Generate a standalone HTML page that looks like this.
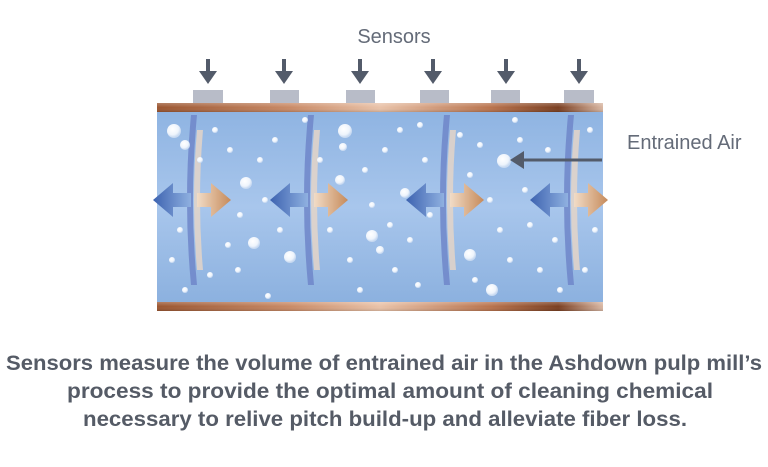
<!DOCTYPE html>
<html><head><meta charset="utf-8"><style>
html,body{margin:0;padding:0;background:#fff;width:768px;height:467px;overflow:hidden}
svg{display:block}
</style></head><body>
<svg width="768" height="467" viewBox="0 0 768 467" xmlns="http://www.w3.org/2000/svg">
<defs>
<linearGradient id="cu" x1="0" x2="1" y1="0" y2="0">
<stop offset="0" stop-color="#9a5530"/><stop offset="0.3" stop-color="#c98a66"/><stop offset="0.5" stop-color="#e9c2a8"/><stop offset="0.75" stop-color="#b8724c"/><stop offset="0.9" stop-color="#7a3e20"/><stop offset="1" stop-color="#d9b7a3"/>
</linearGradient>
<linearGradient id="cuv" x1="0" x2="0" y1="0" y2="1">
<stop offset="0" stop-color="#fff" stop-opacity="0.25"/><stop offset="0.5" stop-color="#fff" stop-opacity="0"/><stop offset="1" stop-color="#000" stop-opacity="0.15"/>
</linearGradient>
<linearGradient id="water" x1="0" x2="0" y1="0" y2="1">
<stop offset="0" stop-color="#8fb4e2"/><stop offset="0.5" stop-color="#a8c6ec"/><stop offset="1" stop-color="#8cb1df"/>
</linearGradient>
<linearGradient id="bl" x1="0" x2="1"><stop offset="0" stop-color="#3d63b0"/><stop offset="1" stop-color="#8fb0e0"/></linearGradient>
<linearGradient id="or" x1="0" x2="1"><stop offset="0" stop-color="#f1dcc7"/><stop offset="1" stop-color="#c68a5a"/></linearGradient>
<radialGradient id="bub" cx="0.4" cy="0.35" r="0.6"><stop offset="0" stop-color="#fff"/><stop offset="0.7" stop-color="#eef4fc"/><stop offset="1" stop-color="#c7d9f1"/></radialGradient>
<g id="sa"><rect x="-2" y="0" width="4" height="18" fill="#535b6a"/><polygon points="-9,12 9,12 0,25" fill="#535b6a"/></g>
<g id="unit">
<path d="M-4,-85 Q-12,0 -4,85 L2,85 Q-6,0 2,-85Z" fill="#6f86c9" opacity="0.85"/>
<path d="M2,-70 Q-4,0 2,70 L8,70 Q2,0 8,-70Z" fill="#e8d6c6" opacity="0.8"/>
<polygon points="-42,0 -22,-17 -22,-7 -4,-7 -4,7 -22,7 -22,17" fill="url(#bl)"/>
<polygon points="36,0 16,-17 16,-7 2,-7 2,7 16,7 16,17" fill="url(#or)"/>
</g>
</defs>
<text x="394" y="43" font-family="Liberation Sans, sans-serif" font-size="20" fill="#646b78" text-anchor="middle">Sensors</text>
<use href="#sa" x="208" y="59"/><use href="#sa" x="284" y="59"/><use href="#sa" x="360" y="59"/><use href="#sa" x="433" y="59"/><use href="#sa" x="506" y="59"/><use href="#sa" x="579" y="59"/>
<g fill="#b8bcc8"><rect x="193" y="90" width="30" height="13"/><rect x="270" y="90" width="29" height="13"/><rect x="346" y="90" width="29" height="13"/><rect x="420" y="90" width="29" height="13"/><rect x="491" y="90" width="29" height="13"/><rect x="564" y="90" width="30" height="13"/></g>
<rect x="157" y="103" width="446" height="9" fill="url(#cu)"/><rect x="157" y="103" width="446" height="9" fill="url(#cuv)"/>
<rect x="157" y="112" width="446" height="190" fill="url(#water)"/>
<rect x="157" y="302" width="446" height="9" fill="url(#cu)"/><rect x="157" y="302" width="446" height="9" fill="url(#cuv)"/>
<use href="#unit" x="195" y="200"/><use href="#unit" x="312" y="200"/><use href="#unit" x="448" y="200"/><use href="#unit" x="572" y="200"/>
<g fill="url(#bub)">
<circle cx="174" cy="131" r="7"/><circle cx="185" cy="145" r="5"/><circle cx="246" cy="183" r="6"/><circle cx="345" cy="131" r="7"/><circle cx="343" cy="147" r="4"/><circle cx="405" cy="193" r="5"/><circle cx="504" cy="161" r="7"/><circle cx="254" cy="243" r="6"/><circle cx="290" cy="257" r="6"/><circle cx="372" cy="236" r="6"/><circle cx="470" cy="255" r="6"/><circle cx="492" cy="290" r="6"/><circle cx="340" cy="180" r="5"/>
<circle cx="200" cy="160" r="3"/><circle cx="215" cy="130" r="3"/><circle cx="230" cy="150" r="3"/><circle cx="240" cy="215" r="3"/><circle cx="260" cy="160" r="3"/><circle cx="265" cy="200" r="3"/><circle cx="275" cy="140" r="3"/><circle cx="280" cy="230" r="3"/><circle cx="238" cy="270" r="3"/><circle cx="268" cy="296" r="3"/><circle cx="228" cy="245" r="3"/><circle cx="210" cy="275" r="3"/><circle cx="180" cy="230" r="3"/><circle cx="172" cy="260" r="3"/>
<circle cx="320" cy="160" r="3"/><circle cx="330" cy="230" r="3"/><circle cx="350" cy="260" r="3"/><circle cx="365" cy="170" r="3"/><circle cx="372" cy="205" r="3"/><circle cx="385" cy="150" r="3"/><circle cx="390" cy="225" r="3"/><circle cx="395" cy="270" r="3"/><circle cx="410" cy="240" r="3"/><circle cx="418" cy="285" r="3"/><circle cx="425" cy="160" r="3"/><circle cx="430" cy="215" r="3"/><circle cx="380" cy="250" r="4"/><circle cx="400" cy="130" r="3"/><circle cx="360" cy="290" r="3"/>
<circle cx="460" cy="135" r="3"/><circle cx="470" cy="175" r="3"/><circle cx="480" cy="145" r="3"/><circle cx="490" cy="200" r="3"/><circle cx="500" cy="230" r="3"/><circle cx="510" cy="260" r="3"/><circle cx="520" cy="140" r="3"/><circle cx="525" cy="190" r="3"/><circle cx="530" cy="225" r="3"/><circle cx="540" cy="270" r="3"/><circle cx="548" cy="150" r="3"/><circle cx="555" cy="240" r="3"/><circle cx="590" cy="130" r="3"/><circle cx="585" cy="270" r="3"/><circle cx="595" cy="230" r="3"/><circle cx="475" cy="280" r="3"/><circle cx="515" cy="120" r="3"/><circle cx="560" cy="290" r="3"/><circle cx="420" cy="125" r="3"/><circle cx="305" cy="120" r="3"/><circle cx="185" cy="290" r="3"/>
</g>
<line x1="602" y1="160" x2="520" y2="160" stroke="#535b6a" stroke-width="3"/>
<polygon points="510,160 524,151 524,169" fill="#535b6a"/>
<text x="627" y="149" font-family="Liberation Sans, sans-serif" font-size="20" fill="#646b78">Entrained Air</text>
<g font-family="Liberation Sans Narrow, Liberation Sans, sans-serif" font-size="21" font-weight="bold" fill="#555b66" text-anchor="middle">
<text x="384" y="370" textLength="756" lengthAdjust="spacingAndGlyphs">Sensors measure the volume of entrained air in the Ashdown pulp mill’s</text>
<text x="390" y="398" textLength="646" lengthAdjust="spacingAndGlyphs">process to provide the optimal amount of cleaning chemical</text>
<text x="385" y="426" textLength="604" lengthAdjust="spacingAndGlyphs">necessary to relive pitch build-up and alleviate fiber loss.</text>
</g>
</svg>
</body></html>
